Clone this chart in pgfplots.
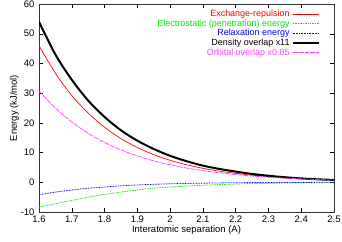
\documentclass[border=0pt]{standalone}
\usepackage{pgfplots}
\pgfplotsset{compat=1.18}
\usepackage{fontspec}
\setmainfont{Liberation Sans}
\definecolor{gpgreen}{RGB}{0,230,0}
\definecolor{gpmag}{RGB}{255,60,255}
\begin{document}
\begin{tikzpicture}
\begin{axis}[
  name=ax,
  scale only axis,
  width=295bp, height=208bp,
  xmin=1.6, xmax=2.5, ymin=-10, ymax=60,
  xtick={1.6,1.7,...,2.5},
  ytick={-10,0,...,60},
  xticklabels={1.6,1.7,1.8,1.9,2,2.1,2.2,2.3,2.4,2.5},
  /pgf/number format/assume math mode=true,
  tick align=inside,
  major tick length=4bp,
  tick style={black, line width=0.4pt},
  axis line style={black!80, line width=0.5pt},
  font=\fontsize{9.5}{11}\selectfont,
  xticklabel style={yshift=-0.5bp},
  yticklabel style={xshift=-1bp},
  xlabel={Interatomic separation (A)},
  ylabel={Energy (kJ/mol)},
  xlabel style={yshift=4bp},
  ylabel style={yshift=-5bp},
  legend style={at={(0.965,0.99)}, anchor=north east, draw=none, fill=none,
    font=\fontsize{9}{10}\selectfont, row sep=-2.4bp},
  legend cell align=right,
  legend plot pos=right,
  legend image code/.code={\draw[#1] (0cm,0cm) -- (0.95cm,0cm);},
  every axis plot/.append style={smooth, no markers},
]
\addplot[red, line width=0.7pt] coordinates {
(1.6,46) (1.65,36.7) (1.7,29.2) (1.75,23.3) (1.8,18.5) (1.85,14.7) (1.9,11.7) (1.95,9.3) (2.0,7.4) (2.05,5.9) (2.1,4.7) (2.15,3.75) (2.2,3.0) (2.25,2.4) (2.3,1.9) (2.35,1.5) (2.4,1.2) (2.45,0.95) (2.5,0.8)};
\addlegendentry{\textcolor{red}{Exchange-repulsion}}
\addplot[gpgreen, line width=0.7pt, dash pattern=on 1.5pt off 1pt] coordinates {
(1.6,-8.4) (1.65,-7.2) (1.7,-6.1) (1.75,-5.0) (1.8,-4.1) (1.85,-3.3) (1.9,-2.6) (1.95,-2.0) (2.0,-1.6) (2.1,-1.0) (2.2,-0.6) (2.3,-0.35) (2.4,-0.2) (2.5,-0.1)};
\addlegendentry{\textcolor{gpgreen}{Electrostatic (penetration) energy}}
\addplot[blue, line width=0.8pt, dash pattern=on 0.8pt off 0.8pt] coordinates {
(1.6,-4.2) (1.65,-3.3) (1.7,-2.6) (1.75,-2.0) (1.8,-1.6) (1.85,-1.2) (1.9,-0.9) (2.0,-0.5) (2.1,-0.3) (2.2,-0.15) (2.3,-0.08) (2.4,-0.04) (2.5,0)};
\addlegendentry{\textcolor{blue}{Relaxation energy}}
\addplot[black, line width=2pt] coordinates {
(1.6,54) (1.65,43) (1.7,34.5) (1.75,27.5) (1.8,22) (1.85,17.5) (1.9,14) (1.95,11.2) (2.0,8.9) (2.05,7.1) (2.1,5.6) (2.15,4.5) (2.2,3.6) (2.25,2.8) (2.3,2.2) (2.35,1.7) (2.4,1.3) (2.45,1.0) (2.5,0.8)};
\addlegendentry{Density overlap x11}
\addplot[gpmag, line width=0.7pt, dash pattern=on 5pt off 1pt] coordinates {
(1.6,30.7) (1.65,25) (1.7,20.3) (1.75,16.5) (1.8,13.4) (1.85,10.9) (1.9,8.9) (1.95,7.2) (2.0,5.9) (2.05,4.8) (2.1,3.9) (2.15,3.2) (2.2,2.6) (2.25,2.1) (2.3,1.7) (2.35,1.4) (2.4,1.15) (2.45,0.9) (2.5,0.75)};
\addlegendentry{\textcolor{gpmag}{Orbital overlap x0.85}}
\end{axis}
\pgfresetboundingbox
\path ([shift={(-39bp,-30bp)}]ax.south west) rectangle ([shift={(8bp,4bp)}]ax.north east);
\end{tikzpicture}
\end{document}
